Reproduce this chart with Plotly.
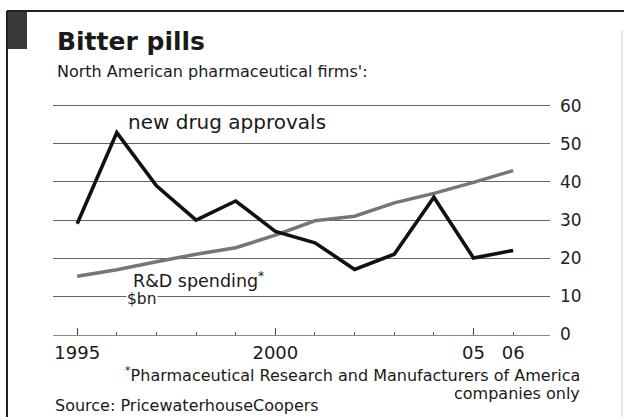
import plotly.graph_objects as go

# Data
years = list(range(1995, 2007))
approvals = [29, 53, 39, 30, 35, 27, 24, 17, 21, 36, 20, 22]
rd_spending = [15.2, 16.9, 19.0, 21.0, 22.7, 26.0, 29.8, 31.0, 34.5, 37.0, 39.9, 43.0]
x_tickvals = [1995, 2000, 2005, 2006]
x_ticktext = ["1995", "2000", "05", "06"]
y_tickvals = [0, 10, 20, 30, 40, 50, 60]

W, H = 624, 417
L, R, T, B = 53, 74, 102, 82
PW, PH = W - L - R, H - T - B


def px(x):
    return (x - L) / PW


def py(y):
    return (H - B - y) / PH


FONT = "DejaVu Sans"
INK = "#1a1a1a"

fig = go.Figure()
fig.add_trace(go.Scatter(x=years, y=rd_spending, mode="lines",
                         line=dict(color="#767676", width=3.5),
                         xaxis="x", yaxis="y", hoverinfo="skip"))
fig.add_trace(go.Scatter(x=years, y=approvals, mode="lines",
                         line=dict(color="#111111", width=3.6),
                         xaxis="x2", yaxis="y", hoverinfo="skip"))

xr = [1994.39, 2006.93]
fig.update_layout(
    width=W, height=H, margin=dict(l=L, r=R, t=T, b=B),
    paper_bgcolor="white", plot_bgcolor="white",
    showlegend=False,
    font=dict(family=FONT, color=INK),
    xaxis=dict(range=xr, tickvals=[1995, 2000, 2005], ticks="inside",
               ticklen=7, tickcolor="#444", tickwidth=1,
               showticklabels=False, showgrid=False, zeroline=False,
               showline=True, linecolor="#8a8a8a", linewidth=1,
               minor=dict(ticks="inside", ticklen=3, dtick=1, tick0=1995,
                          tickcolor="#555", showgrid=False)),
    xaxis2=dict(range=xr, overlaying="x", anchor="y", side="bottom",
                tickvals=x_tickvals, ticktext=x_ticktext, ticks="",
                showgrid=False, zeroline=False, showline=False,
                ticklabelstandoff=5,
                tickfont=dict(size=18, color=INK, family=FONT)),
    yaxis=dict(range=[-0.263, 61.05], tickvals=y_tickvals, side="right",
               showgrid=True, gridcolor="#666", gridwidth=1,
               zeroline=False, ticks="", ticklabelstandoff=9,
               tickfont=dict(size=17, color="#222", family=FONT)),
)

annotations = [
    dict(x=px(55), y=py(42), text="<b>Bitter pills</b>", xanchor="left",
         yanchor="middle", font=dict(size=25, color=INK)),
    dict(x=px(55), y=py(71), text="North American pharmaceutical firms':",
         xanchor="left", yanchor="middle", font=dict(size=16, color=INK)),
    dict(x=px(126), y=py(122), text="new drug approvals", xanchor="left",
         yanchor="middle", font=dict(size=20, color=INK)),
    dict(x=px(126), y=py(299), text="$bn", xanchor="left", yanchor="middle",
         bgcolor="white", borderpad=0, font=dict(size=15.5, color=INK)),
    dict(x=px(131), y=py(280), text="R&D spending<sup>*</sup>", xanchor="left",
         yanchor="middle", font=dict(size=17.5, color=INK)),
    dict(x=px(582), y=py(374),
         text="<sup>*</sup>Pharmaceutical Research and Manufacturers of America",
         xanchor="right", yanchor="middle", font=dict(size=16, color=INK)),
    dict(x=px(582), y=py(393), text="companies only",
         xanchor="right", yanchor="middle", font=dict(size=16, color=INK)),
    dict(x=px(53), y=py(405), text="Source: PricewaterhouseCoopers",
         xanchor="left", yanchor="middle", font=dict(size=16, color=INK)),
]
for a in annotations:
    a.update(xref="paper", yref="paper", showarrow=False)
fig.update_layout(annotations=annotations)

# Frame and corner tab
shapes = [
    dict(type="line", x0=px(7), x1=px(624), y0=py(11), y1=py(11),
         line=dict(color="#222", width=2)),
    dict(type="line", x0=px(7), x1=px(7), y0=py(11), y1=py(417),
         line=dict(color="#222", width=2)),
    dict(type="line", x0=px(622), x1=px(622), y0=py(30), y1=py(417),
         line=dict(color="#d0d0d0", width=1)),
    dict(type="rect", x0=px(8), x1=px(27), y0=py(12), y1=py(49),
         fillcolor="#3a3a3a", line=dict(width=0)),
]
for s in shapes:
    s.update(xref="paper", yref="paper", layer="above")
fig.update_layout(shapes=shapes)

fig.write_html("out.html")
